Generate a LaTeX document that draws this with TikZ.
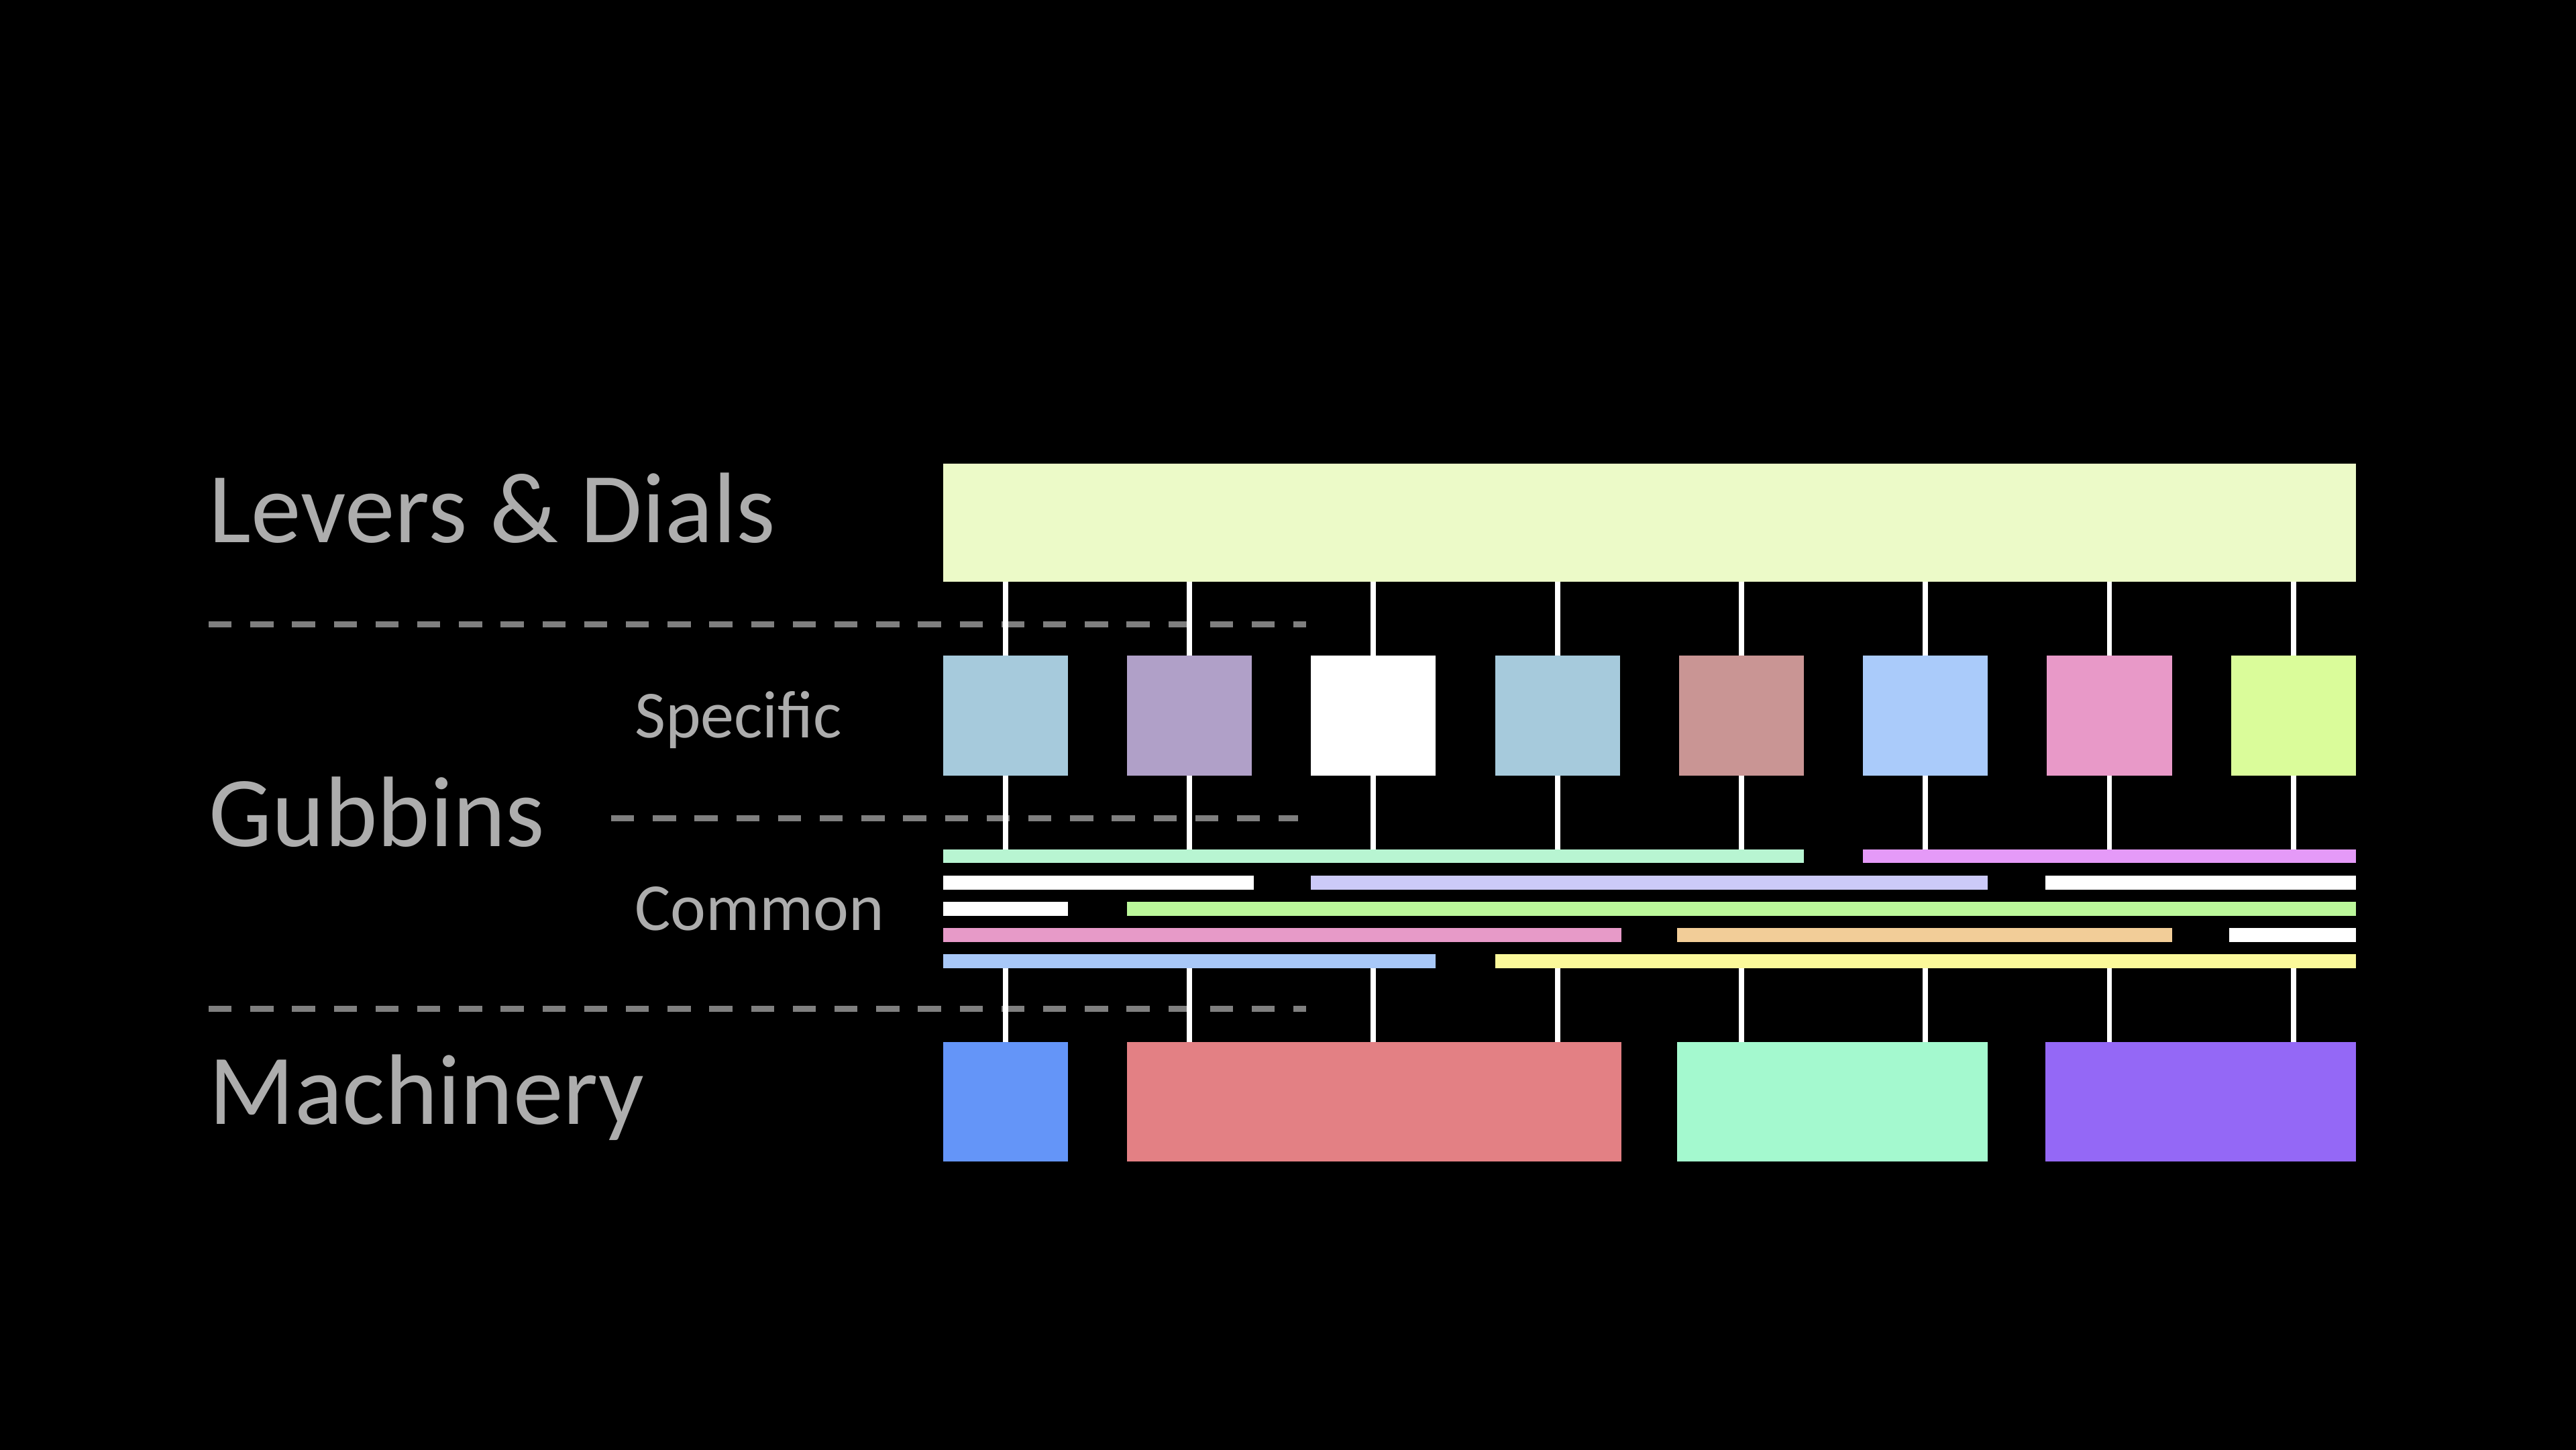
\documentclass[tikz,border=0pt]{standalone}
\usepackage{fontspec}
\setmainfont{Carlito}
\usetikzlibrary{fit}

\definecolor{labelgray}{HTML}{ADADAD}
\definecolor{dashgray}{HTML}{7F7F7F}
\definecolor{leverc}{HTML}{ECFAC8}
\definecolor{spec1}{HTML}{A6CADC}
\definecolor{spec2}{HTML}{B0A0C8}
\definecolor{spec3}{HTML}{FFFFFF}
\definecolor{spec4}{HTML}{A6CADC}
\definecolor{spec5}{HTML}{C99594}
\definecolor{spec6}{HTML}{AACBFA}
\definecolor{spec7}{HTML}{E899C8}
\definecolor{spec8}{HTML}{DAFC9A}
\definecolor{mintc}{HTML}{B8F5D2}
\definecolor{magc}{HTML}{E59AF8}
\definecolor{lavc}{HTML}{CCCAF8}
\definecolor{greenc}{HTML}{BBF79A}
\definecolor{pinkc}{HTML}{E79AC8}
\definecolor{peachc}{HTML}{F2CD98}
\definecolor{bluec}{HTML}{A8C8F8}
\definecolor{yellowc}{HTML}{FBF99A}
\definecolor{mach1}{HTML}{6495F8}
\definecolor{mach2}{HTML}{E38084}
\definecolor{mach3}{HTML}{A4F9CF}
\definecolor{mach4}{HTML}{9468F6}

\begin{document}
\begin{tikzpicture}[x=0.2449mm,y=-0.2449mm,
    box/.style={inner sep=0,outer sep=0},
    wire/.style={white,line width=0.78mm},
    sep/.style={dashgray,line width=0.85mm,dash pattern=on 3.43mm off 2.79mm},
    biglabel/.style={labelgray,inner sep=0,anchor=base west,font=\fontsize{42.5}{50}\selectfont},
    smalllabel/.style={labelgray,inner sep=0,anchor=base west,font=\fontsize{28.5}{34}\selectfont}]
\useasboundingbox (0,0) rectangle (1568,882);
\fill[black] (-10,-10) rectangle (1578,892);

% labels
\node[biglabel] (levlabel) at (127,330) {Levers \& Dials};
\node[biglabel] (gublabel) at (127,515) {Gubbins};
\node[biglabel] (machlabel) at (127,684) {Machinery};
\node[smalllabel] (speclabel) at (386,449) {Specific};
\node[smalllabel] (comlabel) at (386,566) {Common};

% separators
\draw[sep] (127,380) -- (795,380);
\draw[sep] (372,498) -- (790,498);
\draw[sep] (127,614) -- (795,614);

% top layer
\node[box,fill=leverc,fit={(574,282) (1434,354)}] (levers) {};
\foreach \i in {1,...,8}{
  \node[box,fill=spec\i,fit={(574+112*\i-112,399) (650+112*\i-112,472)}] (spec\i) {};}

% common bars
\foreach \a/\b/\y/\c [count=\n] in {574/1098/521/mintc, 1134/1434/521/magc,
    574/763/537/white, 798/1210/537/lavc, 1245/1434/537/white,
    574/650/553/white, 686/1434/553/greenc,
    574/987/569/pinkc, 1021/1322/569/peachc, 1357/1434/569/white,
    574/874/585/bluec, 910/1434/585/yellowc}{
  \node[box,fill=\c,fit={(\a,\y-4.25) (\b,\y+4.25)}] (bar\n) {};}

% machinery
\foreach \a/\b [count=\n] in {574/650, 686/987, 1021/1210, 1245/1434}{
  \node[box,fill=mach\n,fit={(\a,634) (\b,707)}] (mach\n) {};}

% wires
\foreach \i in {1,...,8}{
  \draw[wire] (levers.south -| spec\i) -- (spec\i.north);
  \draw[wire] (spec\i.south) -- (spec\i |- bar1.north);
  \draw[wire] (spec\i |- bar11.south) -- (spec\i |- mach1.north);}
\end{tikzpicture}
\end{document}
